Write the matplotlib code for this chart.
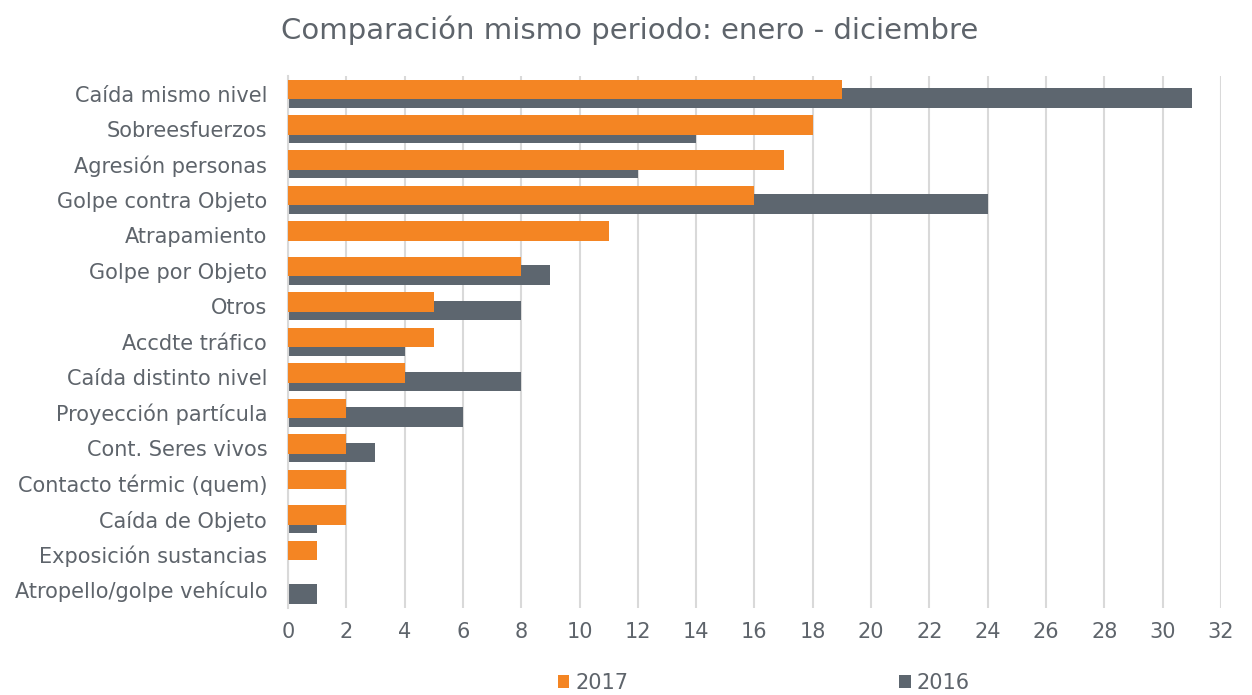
import numpy as np
import matplotlib.pyplot as plt

categorias = ["Caída mismo nivel", "Sobreesfuerzos", "Agresión personas", "Golpe contra Objeto",
              "Atrapamiento", "Golpe por Objeto", "Otros", "Accdte tráfico", "Caída distinto nivel",
              "Proyección partícula", "Cont. Seres vivos", "Contacto térmic (quem)", "Caída de Objeto",
              "Exposición sustancias", "Atropello/golpe vehículo"]
v2017 = [19, 18, 17, 16, 11, 8, 5, 5, 4, 2, 2, 2, 2, 1, 0]
v2016 = [31, 14, 12, 24, 0, 9, 8, 4, 8, 6, 3, 0, 1, 0, 1]

naranja = "#F48523"
gris = "#5D666F"
texto = "#5E646B"

plt.rcParams['font.family'] = ['DejaVu Sans']

fig = plt.figure(figsize=(12.52, 6.95), dpi=100)
ax = fig.add_axes([0.2300, 0.1256, 0.7452, 0.7653])

y = np.arange(len(categorias))
alto = 0.55
ax.barh(y + 0.12, v2016, height=alto, color=gris, label="2016", zorder=2)
ax.barh(y - 0.12, v2017, height=alto, color=naranja, label="2017", zorder=3)

ax.set_xlim(0, 32)
ax.set_ylim(len(categorias) - 0.5, -0.5)
ax.set_xticks(np.arange(0, 33, 2))
ax.set_yticks(y)
ax.set_yticklabels(categorias, fontsize=15.4)
ax.tick_params(axis='both', length=0, labelsize=15, colors=texto)
ax.tick_params(axis='x', pad=10)
ax.tick_params(axis='y', pad=15)
ax.grid(axis='x', color="#D9D9D9", linewidth=1.5, zorder=0)
for s in ["top", "right", "bottom"]:
    ax.spines[s].set_visible(False)
ax.spines["left"].set_color("#D9D9D9")
ax.spines["left"].set_linewidth(1.5)

fig.suptitle("Comparación mismo periodo: enero - diciembre", x=0.503, y=0.978,
             fontsize=21, color=texto)

h, l = ax.get_legend_handles_labels()
fig.legend([h[1], h[0]], [l[1], l[0]], loc='lower center', bbox_to_anchor=(0.61, -0.024),
           ncol=2, frameon=False, fontsize=15, labelcolor=texto,
           handlelength=0.55, handleheight=0.55, handletextpad=0.3, columnspacing=13)

plt.savefig("out.png", dpi=100)
